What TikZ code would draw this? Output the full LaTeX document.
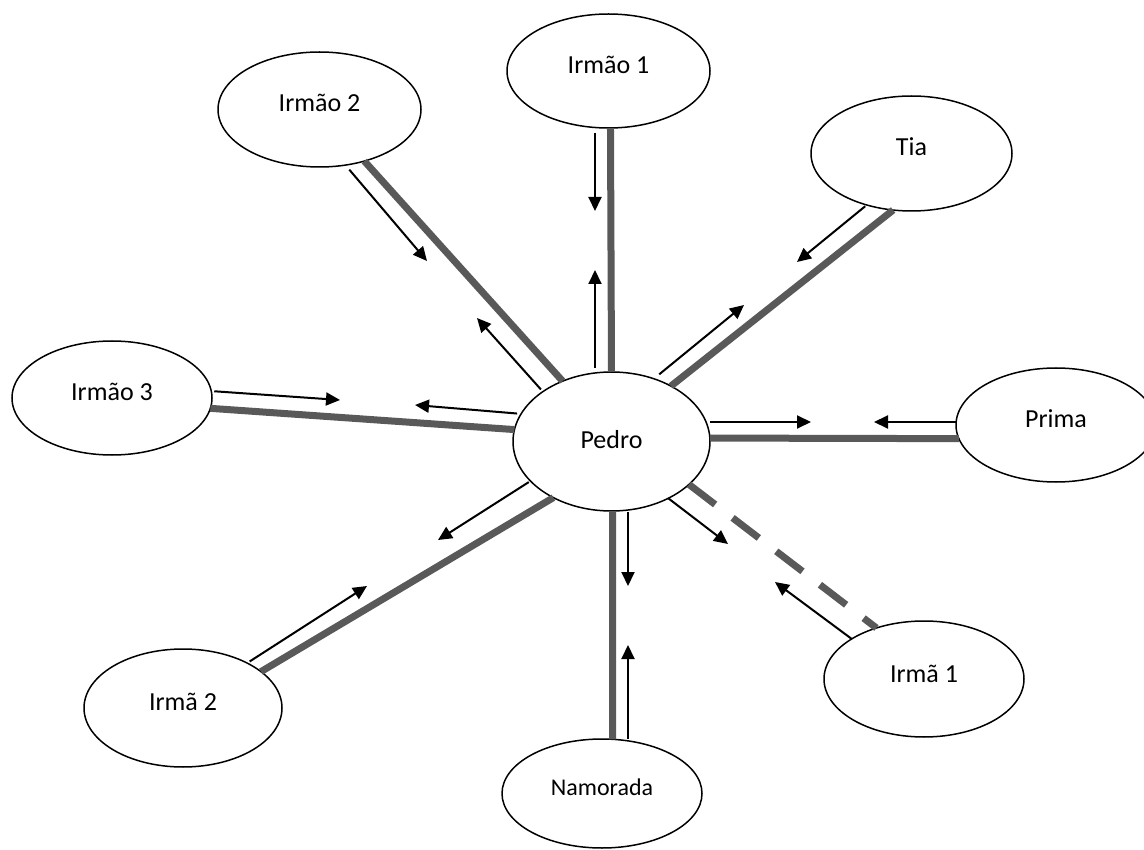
\documentclass[tikz,border=0pt]{standalone}
\usepackage{fontspec}
\setmainfont{Carlito}
\usetikzlibrary{arrows.meta,shapes.geometric}
\definecolor{linkgray}{HTML}{595959}
\begin{document}
\begin{tikzpicture}[x=1pt,y=-1pt,
  person/.style={draw=black, line width=1.5pt, ellipse, inner sep=0pt, outer sep=0pt, fill=white},
  pname/.style={font=\fontsize{26}{30}\selectfont, inner sep=0pt, yshift=6.5pt},
  tie/.style={draw=linkgray, line width=7pt},
  looseTie/.style={tie, dash pattern=on 33pt off 22pt},
  flow/.style={draw=black, line width=2pt, -{Triangle[length=14pt,width=13pt]}}]
\useasboundingbox (0,0) rectangle (1144,850);

% people
\node[person, minimum width=197pt, minimum height=139pt] (pedro) at (611.5,441.5) {};
\node[person, minimum width=203pt, minimum height=114pt] (irmao1) at (608.5,71) {};
\node[person, minimum width=203pt, minimum height=115pt] (irmao2) at (319.5,109.5) {};
\node[person, minimum width=201pt, minimum height=115pt] (tia) at (911.5,153.5) {};
\node[person, minimum width=200pt, minimum height=114pt] (irmao3) at (112,398) {};
\node[person, minimum width=200pt, minimum height=114pt] (prima) at (1056,425) {};
\node[person, minimum width=198pt, minimum height=118pt] (irma2) at (183,708) {};
\node[person, minimum width=200pt, minimum height=109pt] (namorada) at (602,793.5) {};
\node[person, minimum width=200pt, minimum height=116pt] (irma1) at (924,679) {};

% names
\node[pname, yshift=-5pt] (pedro-t) at (pedro) {Pedro};
\node[pname] (irmao1-t) at (irmao1) {Irmão 1};
\node[pname] (irmao2-t) at (irmao2) {Irmão 2};
\node[pname] (tia-t) at (tia) {Tia};
\node[pname] (irmao3-t) at (irmao3) {Irmão 3};
\node[pname] (prima-t) at (prima) {Prima};
\node[pname] (irma2-t) at (irma2) {Irmã 2};
\node[pname, font=\fontsize{24}{28}\selectfont] (namorada-t) at (namorada) {Namorada};
\node[pname, yshift=-1pt] (irma1-t) at (irma1) {Irmã 1};

% ties between Pedro and each relative
\draw[tie] (pedro.90) -- (irmao1.-88);
\draw[tie] (pedro.129) -- (irmao2.-49);
\draw[tie] (pedro.43) -- (tia.-108);
\draw[tie] (pedro.173) -- (irmao3.-6);
\draw[tie] (pedro.2) -- (prima.188);
\draw[tie] (pedro.224) -- (irma2.25);
\draw[tie] (pedro.-89) -- (namorada.79);
\draw[looseTie] (pedro.-29) -- (irma1.133);

% arrow tips
\coordinate (t1) at (595,211);
\coordinate (t2) at (595,270);
\coordinate (t3) at (427,261);
\coordinate (t4) at (477,318);
\coordinate (t5) at (797,262);
\coordinate (t6) at (744,305);
\coordinate (t7) at (340,400);
\coordinate (t8) at (415,405);
\coordinate (t9) at (811,422);
\coordinate (t10) at (874,422);
\coordinate (t11) at (438,540);
\coordinate (t12) at (367,586);
\coordinate (t13) at (628,586);
\coordinate (t14) at (628,645);
\coordinate (t15) at (728,544);
\coordinate (t16) at (775,582);

% flows in both directions
\draw[flow, shorten <=5pt] (t1 |- irmao1.south) -- (t1);
\draw[flow, shorten <=4pt] (t2 |- pedro.north) -- (t2);
\draw[flow, shorten <=6pt] (irmao2.-65) -- (t3);
\draw[flow, shorten <=3pt] (pedro.144) -- (t4);
\draw[flow, shorten <=2pt] (tia.-131) -- (t5);
\draw[flow, shorten <=7pt] (pedro.56) -- (t6);
\draw[flow, shorten <=3pt] (irmao3.4) -- (t7);
\draw[flow, shorten <=4pt] (pedro.163) -- (t8);
\draw[flow] (t9 -| pedro.east) -- (t9);
\draw[flow] (t10 -| prima.west) -- (t10);
\draw[flow, shorten <=2pt] (pedro.206) -- (t11);
\draw[flow, shorten <=3pt] (irma2.35) -- (t12);
\draw[flow, shorten <=1pt] (t13 |- pedro.south) -- (t13);
\draw[flow] (t14 |- namorada.north) -- (t14);
\draw[flow] (pedro.-45) -- (t15);
\draw[flow] (irma1.151) -- (t16);
\end{tikzpicture}
\end{document}
